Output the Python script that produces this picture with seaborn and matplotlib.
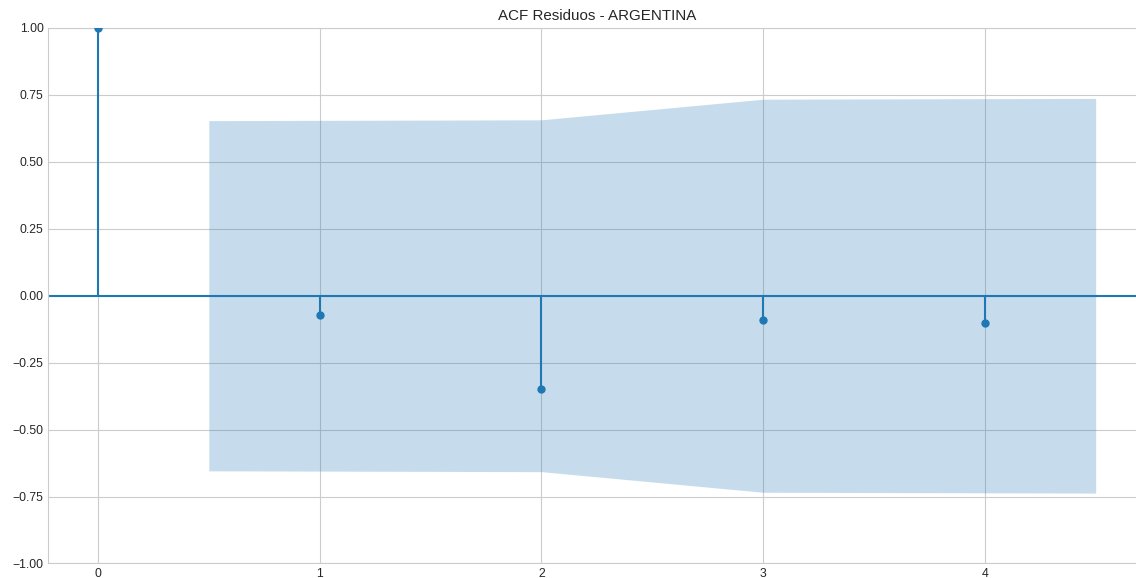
import numpy as np
import matplotlib
matplotlib.use("Agg")
import matplotlib.pyplot as plt
import seaborn as sns

# Autocorrelation of the residuals, lags 0..4
lags = [0, 1, 2, 3, 4]
acf_values = [1.0, -0.073, -0.348, -0.091, -0.103]

# Half-width of the 95% confidence band for lags 1..4
band_lags = [1, 2, 3, 4]
band_half = [0.654, 0.657, 0.734, 0.737]

title = "ACF Residuos - ARGENTINA"
yticks = [-1.0, -0.75, -0.5, -0.25, 0.0, 0.25, 0.5, 0.75, 1.0]

sns.set_style("whitegrid")
plt.rcParams["font.family"] = ["Liberation Sans", "DejaVu Sans"]

fig = plt.figure(figsize=(11.36, 5.78), dpi=100)
ax = fig.add_axes([0.0423, 0.0251, 0.9661, 0.9265])

color = "#1f77b4"

# Band drawn between the outer lags, extended half a lag on each side
bx = np.array(band_lags, dtype=float)
bx[0] -= 0.5
bx[-1] += 0.5
bh = np.array(band_half)
ax.fill_between(bx, -bh, bh, color=color, alpha=0.25, linewidth=0)

# Stems, zero line and markers
ax.vlines(lags, 0, acf_values, color=color, linewidth=1.5)
ax.axhline(0, color=color, linewidth=1.5)
sns.scatterplot(x=lags, y=acf_values, ax=ax, color=color, s=36,
                edgecolor=color, linewidth=0, zorder=3)

ax.set_xlim(-0.225, 4.725)
ax.set_ylim(-1, 1)
ax.set_yticks(yticks)
ax.set_yticklabels([f"{v:.2f}".replace("-", "\u2212") for v in yticks])
ax.set_xticks(lags)
ax.tick_params(labelsize=8.7, colors=".15", length=0, pad=3.2)
ax.set_title(title, fontsize=10.9, color=".15")

fig.savefig("out.png", dpi=100)
